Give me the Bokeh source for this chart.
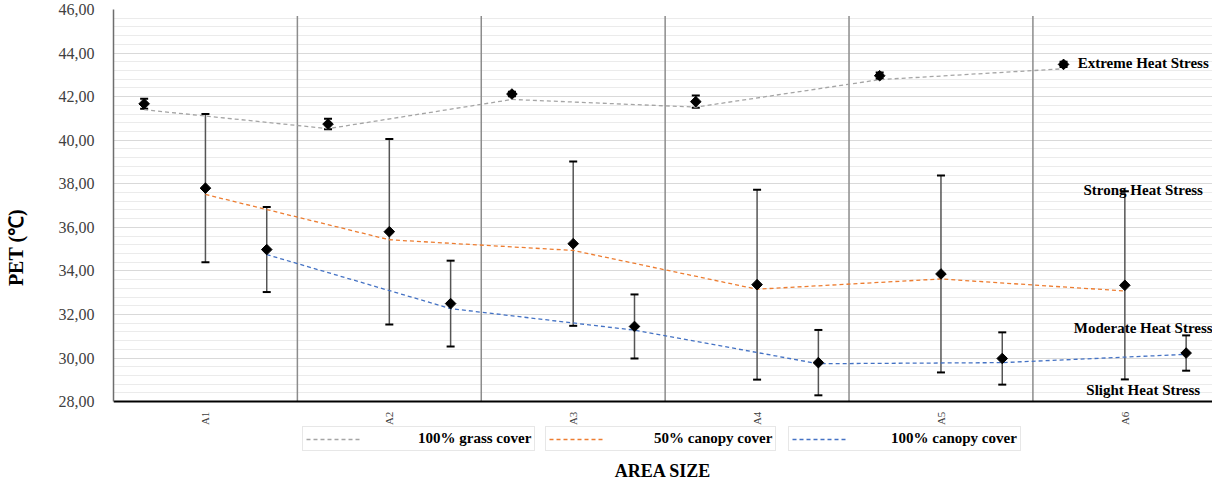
import numpy as np
from bokeh.plotting import figure
from bokeh.models import (ColumnDataSource, Whisker, TeeHead, Legend, LegendItem,
                          FixedTicker, Range1d)
from bokeh.core.properties import value
from bokeh.embed import file_html
from bokeh.resources import INLINE

# ---------------- data ----------------
categories = ["A1", "A2", "A3", "A4", "A5", "A6"]
series_names = ["100% grass cover", "50% canopy cover", "100% canopy cover"]

grass_mean = [41.67, 40.74, 42.12, 41.77, 42.96, 43.48]
grass_sd = [0.23, 0.24, 0.10, 0.28, 0.15, 0.12]
grass_line = [41.40, 40.53, 41.87, 41.52, 42.78, 43.28]

canopy50_mean = [37.80, 35.80, 35.25, 33.37, 33.86, 33.34]
canopy50_sd = [3.40, 4.26, 3.77, 4.36, 4.52, 4.32]
canopy50_line = [37.51, 35.43, 34.94, 33.16, 33.63, 33.08]

canopy100_mean = [34.98, 32.50, 31.45, 29.79, 29.98, 30.23]
canopy100_sd = [1.95, 1.97, 1.47, 1.50, 1.20, 0.81]
canopy100_line = [34.75, 32.27, 31.28, 29.74, 29.79, 30.17]

y_ticks = [28, 30, 32, 34, 36, 38, 40, 42, 44, 46]

stress_labels = ["Extreme Heat Stress", "Strong Heat Stress",
                 "Moderate Heat Stress", "Slight Heat Stress"]
stress_levels = [43.55, 37.73, 31.40, 28.52]

# ---------------- layout helpers ----------------
FONT = "Liberation Serif"
n = len(categories)
group = 3
offsets = [0.5, 1.5, 2.5]
colors = ["#A5A5A5", "#ED7D31", "#4472C4"]
means = [grass_mean, canopy50_mean, canopy100_mean]
sds = [grass_sd, canopy50_sd, canopy100_sd]
lines = [grass_line, canopy50_line, canopy100_line]
y_min_axis, y_max_axis = y_ticks[0], y_ticks[-1]

p = figure(width=1212, height=485, output_backend="svg", toolbar_location=None,
           x_range=Range1d(0, 17.93), y_range=Range1d(24.15, y_max_axis),
           min_border_left=113, min_border_right=0, min_border_top=9,
           min_border_bottom=0)
p.outline_line_color = None
p.background_fill_color = "white"

# grid
p.xgrid.grid_line_color = None
p.yaxis.ticker = FixedTicker(
    ticks=y_ticks,
    minor_ticks=list(np.round(np.arange(y_min_axis, y_max_axis + 0.01, 0.4), 2)))
p.ygrid.grid_line_color = "#D9D9D9"
p.ygrid.grid_line_width = 1
p.ygrid.minor_grid_line_color = "#EBEBEB"
p.ygrid.minor_grid_line_width = 1

# y axis
p.yaxis.bounds = (y_min_axis, y_max_axis)
p.yaxis.major_label_overrides = {t: f"{t:.2f}".replace(".", ",") for t in y_ticks}
p.yaxis.axis_line_color = "#6E6E6E"
p.yaxis.axis_line_width = 1.5
p.yaxis.major_tick_line_color = None
p.yaxis.minor_tick_line_color = None
p.yaxis.major_label_text_font = FONT
p.yaxis.major_label_text_font_size = "16px"
p.yaxis.major_label_text_color = "#404040"
p.yaxis.major_label_standoff = 13
p.yaxis.axis_label = "PET (℃)"
p.yaxis.axis_label_text_font = FONT
p.yaxis.axis_label_text_font_size = "20px"
p.yaxis.axis_label_text_font_style = "bold"
p.yaxis.axis_label_text_color = "black"
p.yaxis.axis_label_standoff = 29

# x axis (drawn at the bottom of the PET scale)
centers = [i * group + 1.5 for i in range(n)]
p.xaxis.fixed_location = y_min_axis
p.xaxis.ticker = FixedTicker(ticks=centers)
p.xaxis.major_label_overrides = {c: lab for c, lab in zip(centers, categories)}
p.xaxis.major_label_orientation = np.pi / 2
p.xaxis.axis_line_color = "black"
p.xaxis.axis_line_width = 2
p.xaxis.major_tick_line_color = None
p.xaxis.minor_tick_line_color = None
p.xaxis.major_label_text_font = FONT
p.xaxis.major_label_text_font_size = "11px"
p.xaxis.major_label_text_color = "#404040"
p.xaxis.major_label_standoff = 4
p.xaxis.axis_label = "AREA SIZE"
p.xaxis.axis_label_text_font = FONT
p.xaxis.axis_label_text_font_size = "18px"
p.xaxis.axis_label_text_font_style = "bold"
p.xaxis.axis_label_text_color = "black"
p.xaxis.axis_label_standoff = 33

# group separators
sep_x = [i * group for i in range(1, n)]
p.segment(x0=sep_x, y0=[y_min_axis] * len(sep_x), x1=sep_x, y1=[45.7] * len(sep_x),
          line_color="#8C8C8C", line_width=1.5)

# series
line_renderers = []
for k in range(3):
    xs = [i * group + offsets[k] for i in range(n)]
    r = p.line(xs, lines[k], line_color=colors[k], line_width=1.3, line_dash="4 3")
    line_renderers.append(r)

for k in range(3):
    xs = [i * group + offsets[k] for i in range(n)]
    m = np.array(means[k]); s = np.array(sds[k])
    src = ColumnDataSource(dict(x=xs, y=m, upper=m + s, lower=m - s))
    w = Whisker(source=src, base="x", upper="upper", lower="lower",
                line_color="#555555", line_width=1.5,
                upper_head=TeeHead(size=8, line_width=2, line_color="black"),
                lower_head=TeeHead(size=8, line_width=2, line_color="black"))
    p.add_layout(w)
    p.scatter("x", "y", source=src, marker="square", angle=np.pi / 4, size=7.5,
              fill_color="black", line_color="black")

# stress class labels
tsrc = ColumnDataSource(dict(x=[16.8] * len(stress_labels), y=stress_levels,
                             t=stress_labels))
p.text("x", "y", text="t", source=tsrc, text_font=value(FONT),
       text_font_size="15px", text_font_style="bold", text_color="black",
       text_align="center", text_baseline="middle")

# legends: three separate boxes under the axis
legend_x = [189, 432, 675]
standoffs = [58, 51, 45]
for k in range(3):
    lg = Legend(items=[LegendItem(label=series_names[k], renderers=[line_renderers[k]])],
                location=(legend_x[k], 34), orientation="horizontal",
                padding=3, margin=0, glyph_width=54, glyph_height=14,
                label_height=14, label_width=0, label_standoff=standoffs[k],
                label_text_font=FONT, label_text_font_size="15px",
                label_text_font_style="bold", label_text_color="black",
                border_line_color="#D0D0D0", border_line_width=1,
                background_fill_color="white", background_fill_alpha=1)
    p.add_layout(lg)

open("out.html", "w").write(file_html(p, INLINE))
